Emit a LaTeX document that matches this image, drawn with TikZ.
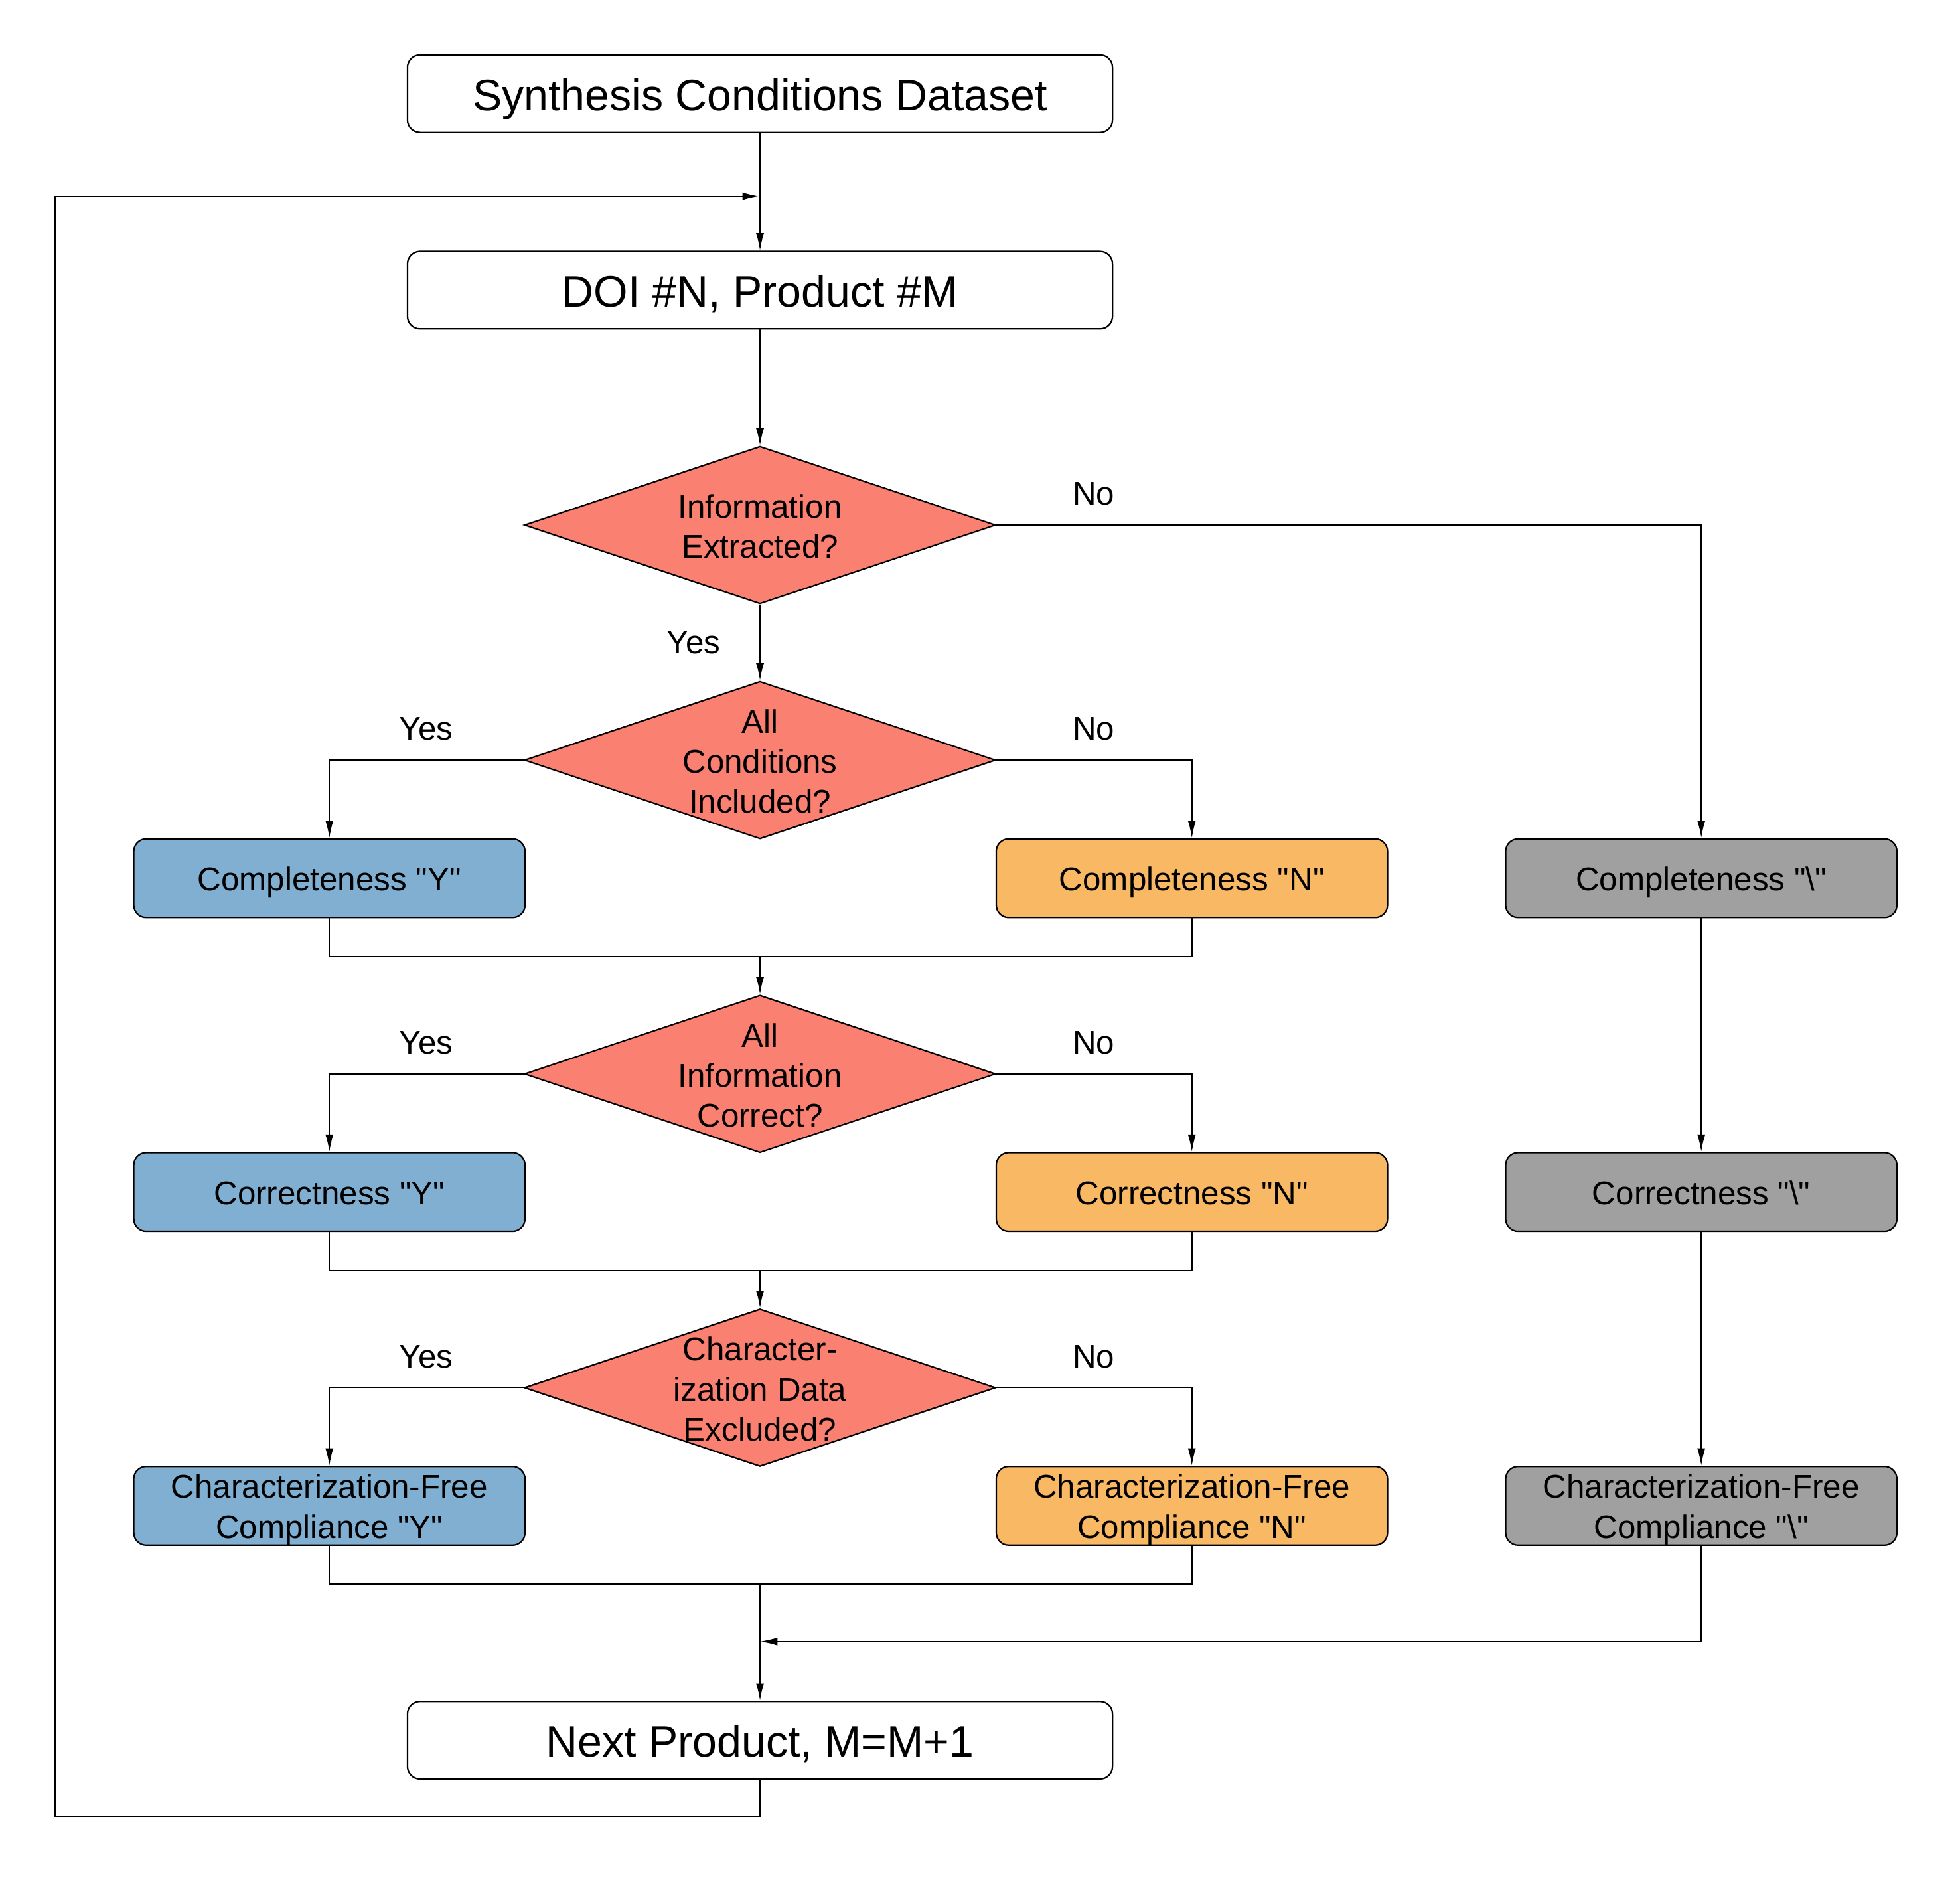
\documentclass[tikz,border=0pt]{standalone}
\usepackage{fontspec}
\setmainfont{Liberation Sans}
\usetikzlibrary{shapes.geometric,arrows.meta}
\definecolor{cblue}{HTML}{80AFD2}
\definecolor{corange}{HTML}{F9B863}
\definecolor{cgray}{HTML}{A0A0A0}
\definecolor{csalmon}{HTML}{FA8072}
\newcommand{\dq}{\textquotedbl}
\newcommand{\twolines}[2]{\raisebox{3.1pt}[15.75pt][15.75pt]{\begin{tabular}[t]{@{}c@{}}#1\\#2\end{tabular}}}
\begin{document}
\begin{tikzpicture}[x=0.5pt,y=-0.5pt,
 every node/.style={font=\fontsize{13.1}{16}\selectfont},
 lowtext/.style={execute at begin node={\rule[-0.212em]{0pt}{1.182em}}},
 bigbox/.style={draw, rounded corners=5pt, line width=0.6pt, minimum width=282pt, minimum height=31pt, inner sep=0pt, font=\fontsize{17.6}{21}\selectfont, lowtext},
 cbox/.style={draw, rounded corners=5pt, line width=0.6pt, minimum width=156.5pt, minimum height=31.5pt, inner sep=0pt},
 onebox/.style={cbox, lowtext},
 dec/.style={draw, diamond, fill=csalmon, line width=0.6pt, minimum width=188.5pt, minimum height=63pt, inner sep=0pt},
 dtext/.style={align=center, inner sep=0pt, yshift=-0.5pt},
 conn/.style={line width=0.5pt},
 arr/.style={conn, -{Latex[length=7pt,width=3.2pt]}},
 lbl/.style={inner sep=0pt}
]
\useasboundingbox (0,0) rectangle (1568,1505);

% main column
\node[bigbox] (top) at (608,75) {Synthesis Conditions Dataset};
\node[bigbox] (doi) at (608,232) {DOI \#N, Product \#M};
\node[bigbox] (next) at (608,1392) {Next Product, M=M+1};

% decisions
\node[dec] (d1) at (608,420) {};
\node[dtext] (d1t) at (d1) {Information\\Extracted?};
\node[dec] (d2) at (608,608) {};
\node[dtext] (d2t) at (d2) {All\\Conditions\\Included?};
\node[dec] (d3) at (608,859) {};
\node[dtext] (d3t) at (d3) {All\\Information\\Correct?};
\node[dec] (d4) at (608,1110) {};
\node[dtext] (d4t) at (d4) {Character-\\ization Data\\Excluded?};

% result boxes
\node[onebox, fill=cblue]   (cY) at (263.5,702.5) {Completeness \dq Y\dq};
\node[onebox, fill=corange] (cN) at (953.5,702.5) {Completeness \dq N\dq};
\node[onebox, fill=cgray]   (cS) at (1361,702.5) {Completeness \dq\textbackslash\dq};
\node[onebox, fill=cblue]   (rY) at (263.5,953.5) {Correctness \dq Y\dq};
\node[onebox, fill=corange] (rN) at (953.5,953.5) {Correctness \dq N\dq};
\node[onebox, fill=cgray]   (rS) at (1361,953.5) {Correctness \dq\textbackslash\dq};
\node[cbox, fill=cblue]   (fY) at (263.5,1204.5) {\twolines{Characterization-Free}{Compliance \dq Y\dq}};
\node[cbox, fill=corange] (fN) at (953.5,1204.5) {\twolines{Characterization-Free}{Compliance \dq N\dq}};
\node[cbox, fill=cgray]   (fS) at (1361,1204.5) {\twolines{Characterization-Free}{Compliance \dq\textbackslash\dq}};

% helper coordinates
\coordinate (loopin) at (608,157);
\coordinate (m1) at (608,765);
\coordinate (m2) at (608,1016);
\coordinate (m3) at (608,1267);
\coordinate (gret) at (608,1313);
\coordinate (lbot) at (44,1453);
\coordinate (ltop) at (44,157);

% connectors
\draw[arr] (top.south) -- (doi.north);
\draw[arr] (doi.south) -- (d1.north);
\draw[arr] (d1.east) -| (cS.north);
\draw[arr] (d1.south) -- (d2.north);
\draw[arr] (d2.west) -| (cY.north);
\draw[arr] (d2.east) -| (cN.north);
\draw[conn] (cY.south) |- (m1) -| (cN.south);
\draw[arr] (m1) -- (d3.north);
\draw[arr] (d3.west) -| (rY.north);
\draw[arr] (d3.east) -| (rN.north);
\draw[conn] (rY.south) |- (m2) -| (rN.south);
\draw[arr] (m2) -- (d4.north);
\draw[arr] (d4.west) -| (fY.north);
\draw[arr] (d4.east) -| (fN.north);
\draw[conn] (fY.south) |- (m3) -| (fN.south);
\draw[arr] (m3) -- (next.north);
\draw[arr] (cS.south) -- (rS.north);
\draw[arr] (rS.south) -- (fS.north);
\draw[arr] (fS.south) |- (gret);
\draw[arr] (next.south) |- (lbot) -- (ltop) -- (loopin);

% labels
\node[lbl] (l1) at (875,395) {No};
\node[lbl] (l2) at (555,514) {Yes};
\node[lbl] (l3) at (341,583) {Yes};
\node[lbl] (l4) at (875,583) {No};
\node[lbl] (l5) at (341,834) {Yes};
\node[lbl] (l6) at (875,834) {No};
\node[lbl] (l7) at (341,1085) {Yes};
\node[lbl] (l8) at (875,1085) {No};
\end{tikzpicture}
\end{document}
